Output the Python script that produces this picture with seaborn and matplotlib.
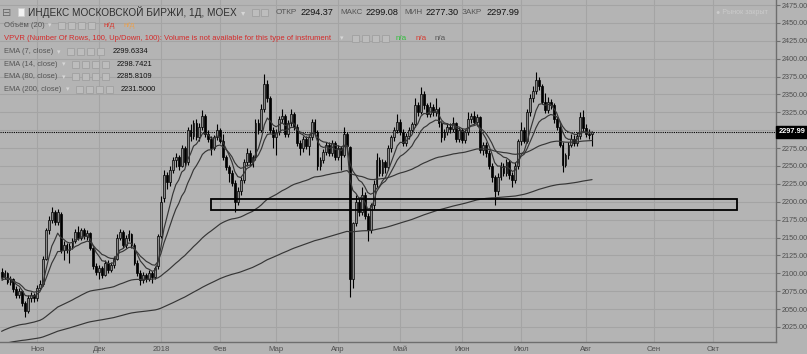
import numpy as np
import pandas as pd
import matplotlib
matplotlib.use("Agg")
import matplotlib.pyplot as plt
import seaborn as sns
from matplotlib.patches import Rectangle

# ---------------- data ----------------
opens = [2102,2095,2100,2088,2092,2078,2070,2075,2058,2048,2066,2070,2065,2080,2085,2120,2160,2175,2186,2172,
         2183,2132,2140,2133,2138,2145,2158,2150,2160,2152,2156,2135,2110,2102,2108,2098,2115,2105,2112,2120,
         2150,2158,2140,2150,2155,2140,2115,2100,2090,2098,2092,2100,2095,2110,2152,2205,2238,2228,2245,2258,
         2262,2250,2275,2255,2300,2292,2310,2290,2305,2320,2295,2288,2275,2290,2300,2285,2262,2248,2240,2226,
         2200,2215,2230,2255,2268,2255,2262,2310,2300,2330,2365,2345,2300,2290,2298,2315,2320,2295,2310,2322,
         2305,2282,2275,2288,2278,2290,2312,2298,2250,2258,2270,2280,2268,2282,2262,2275,2265,2295,2276,2092,
         2170,2200,2185,2210,2180,2160,2195,2225,2258,2240,2255,2248,2275,2290,2300,2312,2298,2282,2292,2300,
         2308,2335,2325,2350,2335,2322,2333,2325,2330,2310,2290,2298,2305,2302,2310,2288,2300,2286,2298,2315,
         2320,2312,2318,2272,2280,2268,2250,2235,2215,2235,2250,2240,2255,2238,2230,2250,2285,2300,2285,2325,
         2345,2355,2370,2362,2340,2328,2340,2335,2315,2305,2280,2252,2265,2280,2288,2282,2292,2318,2303,2295,
         2294.37]
highs = [2108,2104,2102,2096,2094,2082,2080,2077,2062,2070,2074,2073,2084,2090,2124,2163,2180,2192,2189,2190,
         2186,2145,2143,2142,2150,2162,2166,2164,2163,2160,2158,2137,2114,2112,2110,2118,2118,2116,2124,2155,
         2162,2160,2153,2160,2157,2142,2118,2104,2102,2101,2104,2103,2110,2155,2208,2245,2242,2250,2262,2268,
         2265,2280,2278,2305,2308,2314,2315,2310,2328,2322,2300,2292,2294,2308,2303,2295,2266,2252,2245,2230,
         2220,2235,2260,2275,2272,2266,2315,2316,2336,2378,2370,2348,2305,2302,2320,2330,2323,2314,2330,2326,
         2308,2286,2292,2292,2294,2316,2316,2300,2262,2274,2284,2283,2286,2285,2280,2278,2305,2298,2278,2172,
         2210,2205,2220,2214,2184,2198,2230,2268,2262,2260,2258,2280,2294,2304,2322,2316,2302,2296,2304,2312,
         2345,2340,2360,2355,2338,2340,2336,2345,2332,2313,2302,2310,2310,2318,2312,2304,2303,2302,2325,2324,
         2327,2322,2320,2284,2283,2272,2254,2238,2240,2256,2254,2260,2258,2242,2255,2288,2312,2304,2330,2350,
         2362,2381,2375,2365,2352,2346,2344,2338,2318,2308,2284,2268,2284,2295,2293,2298,2325,2328,2308,2302,
         2299.08]
lows = [2090,2092,2085,2084,2074,2066,2066,2054,2039,2045,2060,2060,2062,2076,2082,2118,2155,2170,2168,2168,
        2128,2118,2128,2115,2134,2142,2146,2147,2148,2146,2132,2106,2098,2092,2094,2096,2101,2102,2108,2118,
        2146,2136,2136,2145,2136,2112,2096,2083,2086,2088,2089,2087,2092,2106,2150,2200,2218,2222,2240,2248,
        2245,2248,2250,2252,2285,2288,2286,2285,2300,2290,2283,2265,2272,2286,2282,2258,2244,2228,2222,2185,
        2196,2210,2226,2250,2250,2248,2258,2295,2298,2326,2340,2296,2275,2265,2294,2310,2290,2290,2306,2300,
        2278,2265,2270,2274,2265,2286,2294,2245,2244,2254,2266,2264,2264,2258,2258,2245,2262,2274,2067,2080,
        2166,2180,2182,2176,2145,2156,2190,2220,2236,2236,2240,2244,2270,2285,2296,2294,2278,2278,2288,2296,
        2305,2320,2322,2330,2318,2318,2320,2320,2305,2283,2286,2294,2296,2298,2284,2284,2282,2282,2294,2310,
        2308,2306,2268,2266,2262,2246,2228,2196,2210,2230,2236,2236,2232,2220,2226,2246,2280,2282,2282,2320,
        2340,2350,2356,2336,2324,2324,2330,2310,2300,2276,2241,2248,2260,2276,2278,2278,2288,2298,2290,2288,
        2277.30]
closes = [2095,2100,2088,2092,2078,2070,2075,2058,2048,2066,2070,2065,2080,2085,2120,2160,2175,2186,2172,2185,
          2132,2140,2133,2138,2145,2158,2150,2160,2152,2156,2135,2110,2102,2108,2098,2115,2105,2112,2120,2150,
          2158,2140,2150,2155,2140,2115,2100,2090,2098,2092,2100,2095,2108,2152,2200,2238,2228,2245,2258,2262,
          2250,2275,2255,2300,2292,2310,2290,2305,2320,2295,2288,2275,2290,2300,2285,2262,2248,2240,2226,2200,
          2215,2230,2255,2268,2255,2262,2310,2300,2330,2365,2345,2300,2290,2298,2315,2320,2295,2310,2322,2305,
          2282,2275,2288,2278,2290,2312,2298,2250,2258,2270,2280,2268,2282,2262,2275,2265,2295,2278,2092,2170,
          2200,2185,2210,2180,2160,2195,2225,2258,2240,2255,2248,2275,2290,2300,2312,2298,2282,2292,2300,2308,
          2335,2325,2350,2335,2322,2333,2325,2330,2310,2290,2298,2305,2302,2310,2288,2300,2286,2298,2315,2320,
          2312,2318,2272,2280,2268,2250,2235,2215,2235,2250,2240,2255,2238,2230,2250,2285,2300,2285,2325,2345,
          2355,2370,2362,2340,2328,2340,2335,2315,2305,2280,2252,2265,2280,2288,2282,2292,2318,2303,2295,2294,
          2297.99]

ema_periods = [7, 14, 80, 200]
ema_seeds = [2092, 2090, 2017, 2000]          # indicator levels at the left edge
ema_legend = ["2299.6334", "2298.7421", "2285.8109", "2231.5000"]

holidays = ["2017-11-06", "2018-01-01", "2018-01-02", "2018-01-08", "2018-02-23",
            "2018-03-08", "2018-05-01", "2018-05-09", "2018-06-12"]
first_day = "2017-10-16"
month_names = {11: "Ноя", 12: "Дек", 1: "2018", 2: "Фев", 3: "Мар", 4: "Апр",
               5: "Май", 6: "Июн", 7: "Июл", 8: "Авг", 9: "Сен", 10: "Окт"}

zone_low, zone_high = 2189, 2204
zone_start, zone_end = "2018-01-29", "2018-10-11"

ohlc = dict(open=2294.37, high=2299.08, low=2277.30, close=2297.99)
y_ticks = list(range(2025, 2476, 25))

# ---------------- calendar ----------------
cal = pd.bdate_range(first_day, "2018-11-30")
cal = cal[~cal.isin(pd.to_datetime(holidays))]
n = len(closes)
x = np.arange(n)
df = pd.DataFrame({"x": x, "open": opens, "high": highs, "low": lows, "close": closes})

for p, s in zip(ema_periods, ema_seeds):
    ser = pd.Series([s] + closes)
    df[f"ema{p}"] = ser.ewm(span=p, adjust=False).mean().values[1:]

# ---------------- styling ----------------
BG = "#b4b4b4"
GRID = "#a4a4a4"
sns.set_theme(style="white")
plt.rcParams["font.family"] = ["Liberation Sans", "DejaVu Sans"]
SYM = ["DejaVu Sans"]

W, H = 807, 354
fig = plt.figure(figsize=(W / 100, H / 100), dpi=100)
fig.patch.set_facecolor(BG)
ax = fig.add_axes([0, (H - 342) / H, 776 / W, 342 / H])
ax.set_facecolor(BG)

x_left, x_right = -0.54, 262.3
ax.set_xlim(x_left, x_right)
ax.set_ylim(2004, 2482)

last = ohlc["close"]

# grid / ticks
month_pos, month_lab = [], []
cal_s = pd.Series(np.arange(len(cal)), index=cal)
for (yr, mo), grp in cal_s.groupby([cal.year, cal.month]):
    i = grp.iloc[0]
    if 0 < i < x_right:
        month_pos.append(i)
        month_lab.append(month_names[mo])
ax.set_xticks(month_pos)
ax.set_xticklabels(month_lab)
ax.set_yticks(y_ticks)
# the label hidden behind the last-price tag is left blank
ax.set_yticklabels(["" if abs(v - last) < 8 else f"{v:.2f}" for v in y_ticks])
ax.yaxis.tick_right()
ax.grid(True, color=GRID, lw=0.8)
ax.set_axisbelow(True)
ax.tick_params(axis="y", length=3, width=0.8, color="#6e6e6e", labelsize=5.2,
               labelcolor="#4f4f4f", pad=1.2)
ax.tick_params(axis="x", length=0, labelsize=5.6, labelcolor="#4f4f4f", pad=3)
for side in ["top", "left"]:
    ax.spines[side].set_visible(False)
for side in ["right", "bottom"]:
    ax.spines[side].set_color("#6e6e6e")
    ax.spines[side].set_linewidth(1.0)

# candles
up = df["close"] >= df["open"]
ax.vlines(df["x"], df["low"], df["high"], color="black", lw=0.8, zorder=3)
body_lo = np.minimum(df["open"], df["close"])
body_h = np.abs(df["close"] - df["open"])
ax.bar(df["x"][up], body_h[up], bottom=body_lo[up], width=0.62, color="#8a8a8a",
       edgecolor="black", linewidth=0.5, zorder=4)
ax.bar(df["x"][~up], body_h[~up], bottom=body_lo[~up], width=0.62, color="black",
       edgecolor="black", linewidth=0.5, zorder=4)

# EMAs
for p in ema_periods:
    sns.lineplot(data=df, x="x", y=f"ema{p}", ax=ax, color="#363636", lw=0.85, zorder=5)
ax.set_xlabel("")
ax.set_ylabel("")

# last-price line and tag
ax.axhline(last, color="black", ls=(0, (1, 1)), lw=0.8, zorder=2)
ax.annotate(f"{last:.2f}", xy=(1.003, last), xycoords=("axes fraction", "data"),
            ha="left", va="center", fontsize=5.3, color="white", fontweight="bold",
            bbox=dict(boxstyle="square,pad=0.32", fc="black", ec="black"),
            annotation_clip=False)

# zone rectangle
xs = cal.get_loc(pd.Timestamp(zone_start))
xe = cal.get_loc(pd.Timestamp(zone_end))
ax.add_patch(Rectangle((xs, zone_low), xe - xs, zone_high - zone_low, fill=False,
                       ec="black", lw=1.3, zorder=6))

# ---------------- header texts ----------------
def ftext(px, py, s, **kw):
    kw.setdefault("va", "center")
    kw.setdefault("ha", "left")
    fig.text(px / W, 1 - py / H, s, **kw)

def icon(px, py, size=7):
    fig.patches.append(Rectangle((px / W, 1 - (py + size / 2) / H), size / W, size / H,
                                 transform=fig.transFigure, fc="#bdbdbd", ec="#a0a0a0",
                                 lw=0.6, zorder=10))

ftext(2, 12.5, "⊟", fontsize=8, color="#6a6a6a", family=SYM)
fig.patches.append(Rectangle((18 / W, 1 - 16 / H), 6 / W, 8 / H, transform=fig.transFigure,
                             fc="#f2f2f2", ec="#d0d0d0", lw=0.5))
ftext(28, 12.5, "ИНДЕКС МОСКОВСКОЙ БИРЖИ, 1Д, MOEX", fontsize=7.2, color="#2f2f2f")
ftext(241, 12.5, "▾", fontsize=6, color="#d6d6d6", family=SYM)
icon(252, 12.5); icon(261, 12.5)
ftext(276, 12.5, "ОТКР", fontsize=5.9, color="#555555")
ftext(300, 12.5, f"{ohlc['open']:.2f}", fontsize=6.6, color="#111111")
ftext(340, 12.5, "МАКС", fontsize=5.9, color="#555555")
ftext(365, 12.5, f"{ohlc['high']:.2f}", fontsize=6.6, color="#111111")
ftext(404, 12.5, "МИН", fontsize=5.9, color="#555555")
ftext(425, 12.5, f"{ohlc['low']:.2f}", fontsize=6.6, color="#111111")
ftext(462, 12.5, "ЗАКР", fontsize=5.9, color="#555555")
ftext(486, 12.5, f"{ohlc['close']:.2f}", fontsize=6.6, color="#111111")
ftext(716, 12.5, "● Рынок закрыт", fontsize=5.1, color="#cbcbcb")

ftext(4, 25.5, "Объём (20)", fontsize=5.6, color="#555555")
ftext(48, 25.5, "▾", fontsize=5, color="#d6d6d6", family=SYM)
for k in range(4):
    icon(58 + k * 10, 25.5)
ftext(104, 25.5, "н/д", fontsize=5.8, color="#d63a2f")
ftext(124, 25.5, "н/д", fontsize=5.8, color="#e8a050")

ftext(4, 38.3, "VPVR (Number Of Rows, 100, Up/Down, 100): Volume is not available for this type of instrument",
      fontsize=5.5, color="#d42a2a")
ftext(340, 38.3, "▾", fontsize=5, color="#d6d6d6", family=SYM)
for k in range(4):
    icon(352 + k * 10, 38.3)
ftext(396, 38.3, "n/a", fontsize=5.8, color="#2fbf3a")
ftext(416, 38.3, "n/a", fontsize=5.8, color="#d63a2f")
ftext(435, 38.3, "n/a", fontsize=5.8, color="#555555")

ema_rows_y = [51.7, 64.2, 76.8, 89.4]
ema_icon_x = [67, 72, 72, 76]
ema_val_x = [113, 117, 117, 121]
for p, yy, ix, vx, val in zip(ema_periods, ema_rows_y, ema_icon_x, ema_val_x, ema_legend):
    ftext(4, yy, f"EMA ({p}, close)", fontsize=5.4, color="#555555")
    ftext(ix - 10, yy, "▾", fontsize=5, color="#d6d6d6", family=SYM)
    for k in range(4):
        icon(ix + k * 10, yy)
    ftext(vx, yy, val, fontsize=5.4, color="#111111")

fig.savefig("out.png", dpi=100, facecolor=BG)
